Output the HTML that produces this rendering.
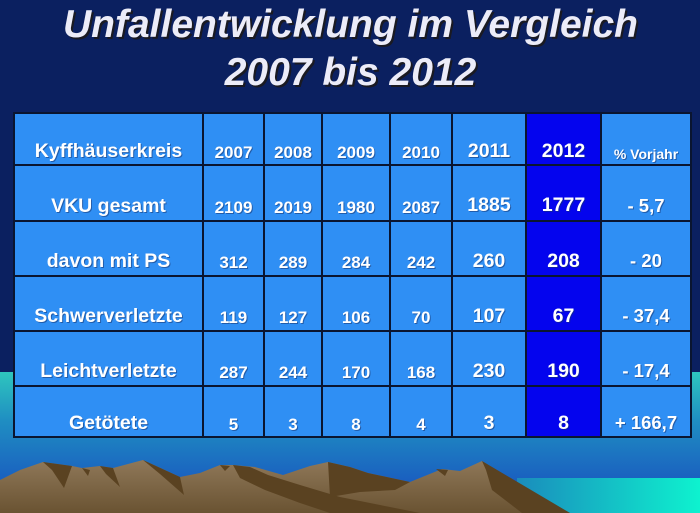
<!DOCTYPE html>
<html>
<head>
<meta charset="utf-8">
<style>
html,body{margin:0;padding:0;background:#0b2060;}
svg{display:block;}
text{font-family:"Liberation Sans",Arial,sans-serif;font-weight:bold;}
</style>
</head>
<body>
<svg width="700" height="513" viewBox="0 0 700 513" xmlns="http://www.w3.org/2000/svg">
<defs>
<linearGradient id="sea" x1="0" y1="372" x2="0" y2="480" gradientUnits="userSpaceOnUse">
<stop offset="0" stop-color="#2ec6be"/>
<stop offset="0.45" stop-color="#1f8ec2"/>
<stop offset="1" stop-color="#1a60c0"/>
</linearGradient>
<linearGradient id="cyan" x1="517" y1="0" x2="700" y2="0" gradientUnits="userSpaceOnUse">
<stop offset="0" stop-color="#1a8cbc"/>
<stop offset="1" stop-color="#0ef2cf"/>
</linearGradient>
<linearGradient id="mtn" x1="0" y1="460" x2="0" y2="513" gradientUnits="userSpaceOnUse">
<stop offset="0" stop-color="#8f7859"/>
<stop offset="1" stop-color="#6a5332"/>
</linearGradient>
</defs>

<!-- background -->
<rect x="0" y="0" width="700" height="372" fill="#0b2060"/>
<rect x="0" y="372" width="700" height="141" fill="url(#sea)"/>
<rect x="517" y="478" width="183" height="35" fill="url(#cyan)"/>

<!-- mountains -->
<polygon fill="url(#mtn)" points="0,480 20,470 43,462 72,466 82,468 100,466 113,468 143,460 180,477 200,473 220,465 233,465 255,467 283,475 310,466 328,462 350,467 368,473 410,482 442,469 460,471 482,461 520,485 545,500 570,513 0,513"/>
<g fill="#5a4221">
<polygon points="43,462 72,466 64,488 52,470"/>
<polygon points="82,468 90,470 88,476"/>
<polygon points="100,466 113,468 120,487 106,474"/>
<polygon points="143,460 180,477 184,495 160,474"/>
<polygon points="220,465 230,466 225,471"/>
<polygon points="233,465 250,467 268,475 300,485 340,497 380,505 420,513 330,513 300,503 265,490 240,478"/>
<polygon points="328,462 350,467 368,473 410,482 395,490 360,492 330,497"/>
<polygon points="436,469 448,470 445,476"/>
<polygon points="482,461 570,513 522,513 492,490 486,470"/>
</g>

<!-- title -->
<g font-style="italic" font-size="39" text-anchor="middle">
<text x="352.5" y="39" fill="#1a1a22">Unfallentwicklung im Vergleich</text>
<text x="352.5" y="87" fill="#1a1a22">2007 bis 2012</text>
<text x="350.5" y="37" fill="#ececf8">Unfallentwicklung im Vergleich</text>
<text x="350.5" y="85" fill="#ececf8">2007 bis 2012</text>
</g>

<!-- table -->
<rect x="14" y="113" width="677" height="324" fill="#2f8ff4"/>
<rect x="526" y="113" width="75" height="324" fill="#0404ee"/>
<g stroke="#0a1530" stroke-width="2" fill="none">
<rect x="14" y="113" width="677" height="324"/>
<line x1="14" y1="165" x2="691" y2="165"/>
<line x1="14" y1="221" x2="691" y2="221"/>
<line x1="14" y1="276" x2="691" y2="276"/>
<line x1="14" y1="331" x2="691" y2="331"/>
<line x1="14" y1="386" x2="691" y2="386"/>
<line x1="203" y1="113" x2="203" y2="437"/>
<line x1="264" y1="113" x2="264" y2="437"/>
<line x1="322" y1="113" x2="322" y2="437"/>
<line x1="390" y1="113" x2="390" y2="437"/>
<line x1="452" y1="113" x2="452" y2="437"/>
<line x1="526" y1="113" x2="526" y2="437"/>
<line x1="601" y1="113" x2="601" y2="437"/>
</g>

<!-- cell text shadow layer -->
<g fill="#16336e" fill-opacity="0.55" text-anchor="middle" transform="translate(1,1)">
<g font-size="19.5">
<text x="108.5" y="157">Kyffhäuserkreis</text>
<text x="108.5" y="212">VKU gesamt</text>
<text x="108.5" y="267">davon mit PS</text>
<text x="108.5" y="322">Schwerverletzte</text>
<text x="108.5" y="377">Leichtverletzte</text>
<text x="108.5" y="429">Getötete</text>
</g>
<g font-size="17">
<text x="233.5" y="158">2007</text><text x="293" y="158">2008</text><text x="356" y="158">2009</text><text x="421" y="158">2010</text>
<text x="233.5" y="213">2109</text><text x="293" y="213">2019</text><text x="356" y="213">1980</text><text x="421" y="213">2087</text>
<text x="233.5" y="268">312</text><text x="293" y="268">289</text><text x="356" y="268">284</text><text x="421" y="268">242</text>
<text x="233.5" y="323">119</text><text x="293" y="323">127</text><text x="356" y="323">106</text><text x="421" y="323">70</text>
<text x="233.5" y="378">287</text><text x="293" y="378">244</text><text x="356" y="378">170</text><text x="421" y="378">168</text>
<text x="233.5" y="430">5</text><text x="293" y="430">3</text><text x="356" y="430">8</text><text x="421" y="430">4</text>
</g>
<g font-size="19.5">
<text x="489" y="157">2011</text><text x="563.5" y="157">2012</text>
<text x="489" y="211">1885</text><text x="563.5" y="211">1777</text>
<text x="489" y="267">260</text><text x="563.5" y="267">208</text>
<text x="489" y="322">107</text><text x="563.5" y="322">67</text>
<text x="489" y="377">230</text><text x="563.5" y="377">190</text>
<text x="489" y="429">3</text><text x="563.5" y="429">8</text>
</g>
<text x="646" y="159" font-size="14">% Vorjahr</text>
<g font-size="18.5">
<text x="646" y="212">- 5,7</text>
<text x="646" y="267">- 20</text>
<text x="646" y="322">- 37,4</text>
<text x="646" y="377">- 17,4</text>
<text x="646" y="429">+ 166,7</text>
</g>
</g>

<!-- cell text -->
<g fill="#ffffff" text-anchor="middle">
<g font-size="19.5">
<text x="108.5" y="157">Kyffhäuserkreis</text>
<text x="108.5" y="212">VKU gesamt</text>
<text x="108.5" y="267">davon mit PS</text>
<text x="108.5" y="322">Schwerverletzte</text>
<text x="108.5" y="377">Leichtverletzte</text>
<text x="108.5" y="429">Getötete</text>
</g>
<g font-size="17">
<text x="233.5" y="158">2007</text><text x="293" y="158">2008</text><text x="356" y="158">2009</text><text x="421" y="158">2010</text>
<text x="233.5" y="213">2109</text><text x="293" y="213">2019</text><text x="356" y="213">1980</text><text x="421" y="213">2087</text>
<text x="233.5" y="268">312</text><text x="293" y="268">289</text><text x="356" y="268">284</text><text x="421" y="268">242</text>
<text x="233.5" y="323">119</text><text x="293" y="323">127</text><text x="356" y="323">106</text><text x="421" y="323">70</text>
<text x="233.5" y="378">287</text><text x="293" y="378">244</text><text x="356" y="378">170</text><text x="421" y="378">168</text>
<text x="233.5" y="430">5</text><text x="293" y="430">3</text><text x="356" y="430">8</text><text x="421" y="430">4</text>
</g>
<g font-size="19.5">
<text x="489" y="157">2011</text><text x="563.5" y="157">2012</text>
<text x="489" y="211">1885</text><text x="563.5" y="211">1777</text>
<text x="489" y="267">260</text><text x="563.5" y="267">208</text>
<text x="489" y="322">107</text><text x="563.5" y="322">67</text>
<text x="489" y="377">230</text><text x="563.5" y="377">190</text>
<text x="489" y="429">3</text><text x="563.5" y="429">8</text>
</g>
<text x="646" y="159" font-size="14">% Vorjahr</text>
<g font-size="18.5">
<text x="646" y="212">- 5,7</text>
<text x="646" y="267">- 20</text>
<text x="646" y="322">- 37,4</text>
<text x="646" y="377">- 17,4</text>
<text x="646" y="429">+ 166,7</text>
</g>
</g>
</svg>
</body>
</html>
